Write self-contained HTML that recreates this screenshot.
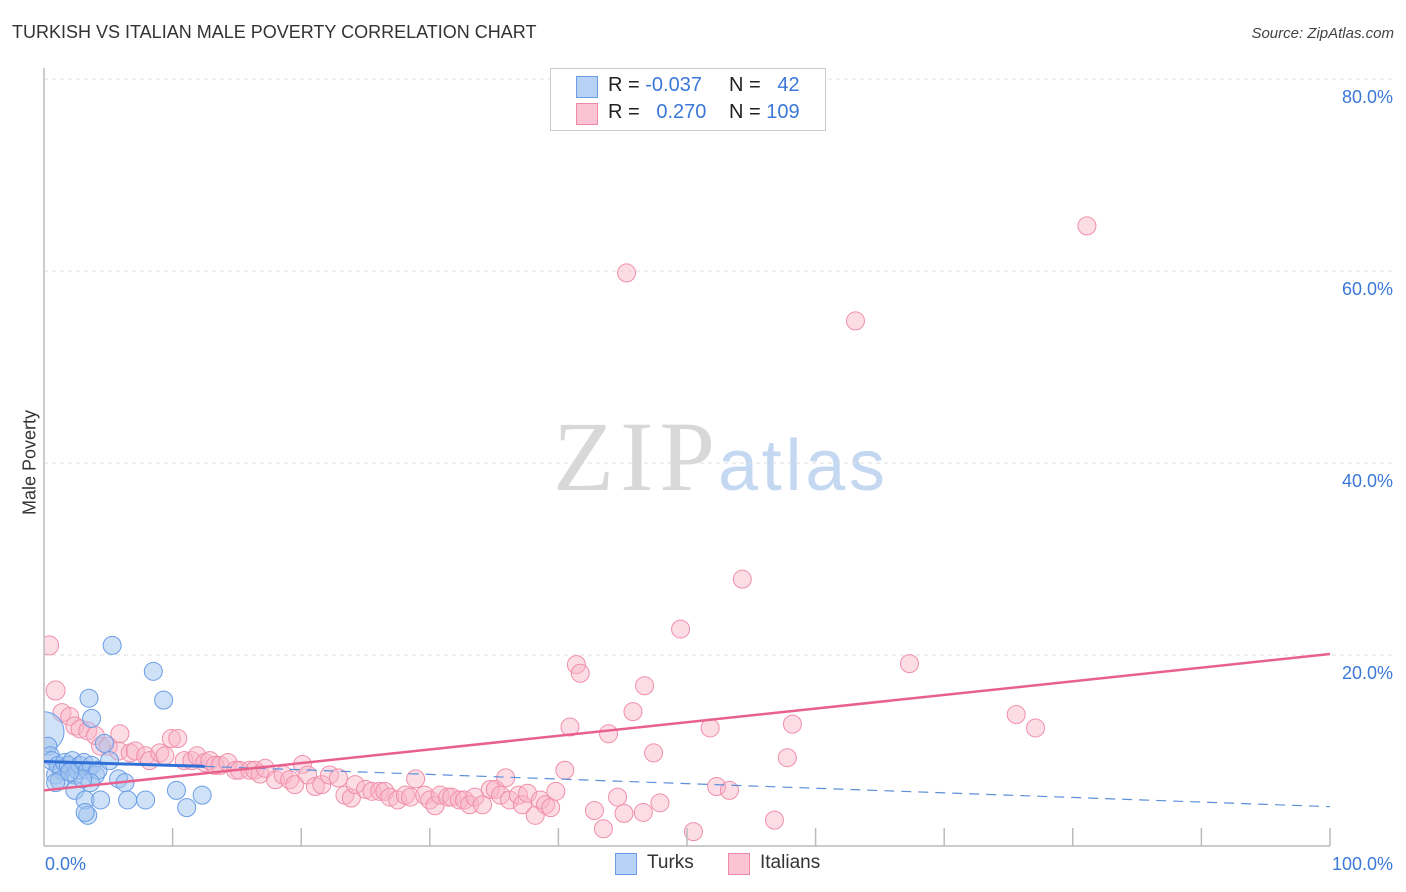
<!DOCTYPE html>
<html><head><meta charset="utf-8">
<style>
body{margin:0;background:#fff;font-family:"Liberation Sans",sans-serif;}
#wrap{position:relative;width:1406px;height:892px;overflow:hidden;}
.t{position:absolute;white-space:nowrap;}
</style></head>
<body>
<div id="wrap">
<div class="t" style="left:12px;top:22px;font-size:18px;color:#333;">TURKISH VS ITALIAN MALE POVERTY CORRELATION CHART</div>
<div class="t" style="right:12px;top:25px;font-size:15px;color:#444;font-style:italic;">Source: ZipAtlas.com</div>
<svg id="svg" width="1406" height="892" style="position:absolute;left:0;top:0"></svg>
<div class="t" style="left:550px;top:68px;width:274px;height:61px;border:1px solid #ccc;background:#fff;">
 <div style="position:absolute;left:25px;top:7px;width:20px;height:20px;background:#b8d2f5;border:1px solid #6a9de6;"></div>
 <div style="position:absolute;left:25px;top:34px;width:20px;height:20px;background:#fac4d4;border:1px solid #ee8aa8;"></div>
 <div class="t" style="left:57px;top:5px;font-size:20px;color:#222;">R = <span style="color:#3b78d8">-0.037</span></div>
 <div class="t" style="left:178px;top:5px;font-size:20px;color:#222;">N = &nbsp; <span style="color:#3b78d8">42</span></div>
 <div class="t" style="left:57px;top:32px;font-size:20px;color:#222;">R = &nbsp; <span style="color:#3b78d8">0.270</span></div>
 <div class="t" style="left:178px;top:32px;font-size:20px;color:#222;">N = <span style="color:#3b78d8">109</span></div>
</div>
<div class="t" style="left:10px;top:455px;transform:translate(0,-50%) rotate(-90deg);transform-origin:center;font-size:18px;color:#333;width:40px;text-align:center;"><span style="display:inline-block;margin-left:-40px">Male Poverty</span></div>
<div style="position:absolute;left:615px;top:853px;width:20px;height:20px;background:#b8d2f5;border:1px solid #6a9de6;"></div>
<div class="t" style="left:647px;top:852px;font-size:19px;color:#333;">Turks</div>
<div style="position:absolute;left:728px;top:853px;width:20px;height:20px;background:#fac4d4;border:1px solid #ee8aa8;"></div>
<div class="t" style="left:760px;top:852px;font-size:19px;color:#333;">Italians</div>
</div>
<script>
const yTicks=[20,40,60,80];
const yTickLabels=["20.0%","40.0%","60.0%","80.0%"];
const xTickLabels=["0.0%","100.0%"];
const turksX=[0.0,0.3,0.5,0.6,0.9,1.1,1.4,1.6,1.9,2.2,2.4,2.6,2.8,3.1,3.4,3.7,1.2,0.9,2.4,3.2,3.4,3.2,4.4,4.0,4.2,5.1,5.8,6.3,6.5,7.9,10.3,11.1,12.3,5.3,8.5,9.3,3.5,3.7,4.7,3.6,3.0,2.0];
const turksY=[12.0,10.5,9.5,9.0,7.5,8.5,8.0,8.8,8.5,9.0,7.5,8.0,8.5,8.8,8.0,8.5,6.9,6.7,5.9,4.9,3.3,3.6,4.9,7.5,8.0,9.0,7.1,6.7,4.9,4.9,5.9,4.1,5.4,21.0,18.3,15.3,15.5,13.4,10.8,6.7,7.1,7.8];
const itX=[0.4,0.9,1.4,2.0,2.4,2.8,3.4,4.0,4.4,5.0,5.9,5.8,6.7,7.1,7.9,8.2,9.0,9.4,9.9,10.4,10.9,11.5,11.9,12.5,12.9,13.3,13.7,14.3,14.9,15.2,16.0,16.4,16.8,17.2,18.0,18.6,19.1,19.5,20.1,20.5,21.1,21.6,22.2,22.9,23.4,23.9,24.2,25.0,25.5,26.1,26.5,26.9,27.5,28.1,28.5,28.9,29.6,30.0,30.4,30.8,31.4,31.7,32.3,32.7,33.1,33.5,34.1,34.7,35.1,35.5,35.9,36.2,36.9,37.2,37.6,38.2,38.6,39.0,39.4,39.8,40.5,40.9,41.4,41.7,42.8,43.5,43.9,44.6,45.1,45.3,45.8,46.6,46.7,47.4,47.9,49.5,50.5,51.8,52.3,53.3,54.3,56.8,57.8,58.2,63.1,67.3,75.6,77.1,81.1];
const itY=[21.0,16.3,14.0,13.6,12.6,12.3,12.1,11.6,10.5,10.5,11.8,10.0,9.8,10.0,9.5,9.0,9.8,9.5,11.3,11.3,9.0,9.0,9.5,8.8,9.0,8.5,8.5,8.8,8.0,8.0,8.0,8.0,7.6,8.2,7.0,7.5,7.0,6.5,8.6,7.5,6.3,6.5,7.5,7.2,5.4,5.1,6.5,6.0,5.8,5.8,5.8,5.2,4.9,5.4,5.2,7.1,5.4,4.9,4.3,5.4,5.2,5.2,4.9,4.9,4.4,5.2,4.4,6.0,6.0,5.4,7.2,4.9,5.4,4.4,5.6,3.3,4.9,4.4,4.1,5.8,8.0,12.5,19.0,18.1,3.8,1.9,11.8,5.2,3.5,59.8,14.1,3.6,16.8,9.8,4.6,22.7,1.6,12.4,6.3,5.9,27.9,2.8,9.3,12.8,54.8,19.1,13.8,12.4,64.7];
const X0=44,X1=1330,Y0=847,PY=9.6;
const xs=v=>X0+(X1-X0)*v/100, ys=v=>Y0-v*PY;
const svg=document.getElementById('svg');const NS='http://www.w3.org/2000/svg';
function mk(tag,at){const e=document.createElementNS(NS,tag);for(const k in at)e.setAttribute(k,at[k]);svg.appendChild(e);return e;}
let w=mk('text',{x:553,y:490,'font-family':'Liberation Serif,serif','font-size':100,fill:'#d8d8d8',textLength:162});w.textContent='ZIP';


w=mk('text',{x:718,y:490,'font-family':'Liberation Sans,sans-serif','font-size':72,fill:'#c4d8f2',textLength:167});w.textContent='atlas';


yTicks.forEach((t,i)=>{
 const g=mk('line',{x1:X0,x2:1393,y1:ys(t),y2:ys(t),stroke:'#ddd','stroke-dasharray':'4,4'});
 
 
 const l=mk('text',{x:1393,y:ys(t)+24,'text-anchor':'end','font-size':18,fill:'#3b78d8','font-family':'Liberation Sans,sans-serif'});l.textContent=yTickLabels[i];
 
 
});
let cp=mk('clipPath',{id:'pc'});const cr=document.createElementNS(NS,'rect');cr.setAttribute('x',X0);cr.setAttribute('y',60);cr.setAttribute('width',1360);cr.setAttribute('height',786);cp.appendChild(cr);
const gp=mk('g',{'clip-path':'url(#pc)'});
function mc(at){const e=document.createElementNS(NS,'circle');for(const k in at)e.setAttribute(k,at[k]);gp.appendChild(e);return e;}
itX.forEach((x,i)=>{const c=mc({cx:xs(x),cy:ys(itY[i]),r:i<2?9.5:9,fill:'rgba(248,180,200,0.45)',stroke:'#f08fab','stroke-width':1});
 
 });
turksX.forEach((x,i)=>{const c=mc({cx:xs(x),cy:ys(turksY[i]),r:i==0?20:9,fill:'rgba(160,195,240,0.5)',stroke:'#6a9de6','stroke-width':1});
 
 });
let a=mk('line',{x1:X0,x2:X0,y1:68,y2:846,stroke:'#bbb','stroke-width':1.5});


a=mk('line',{x1:X0,x2:X1,y1:846,y2:846,stroke:'#bbb','stroke-width':1.5});


for(let i=1;i<=10;i++){const tk=mk('line',{x1:xs(i*10),x2:xs(i*10),y1:828,y2:846,stroke:'#bbb','stroke-width':1.5});
 
 }
[[0,'start',45],[100,'end',1393]].forEach((d,i)=>{const l=mk('text',{x:d[2],y:870,'text-anchor':d[1],'font-size':18,fill:'#3b78d8','font-family':'Liberation Sans,sans-serif'});l.textContent=xTickLabels[i];
 
 });
let tl=mk('line',{x1:xs(0),y1:ys(8.9),x2:xs(12.5),y2:ys(8.4),stroke:'#2f6fd6','stroke-width':3});


tl=mk('line',{x1:xs(12.5),y1:ys(8.4),x2:xs(100),y2:ys(4.2),stroke:'#5b8fd8','stroke-width':1.2,'stroke-dasharray':'10,7'});


tl=mk('line',{x1:xs(0),y1:ys(5.9),x2:xs(100),y2:ys(20.1),stroke:'#e8618e','stroke-width':2.5});


</script>
</body></html>
